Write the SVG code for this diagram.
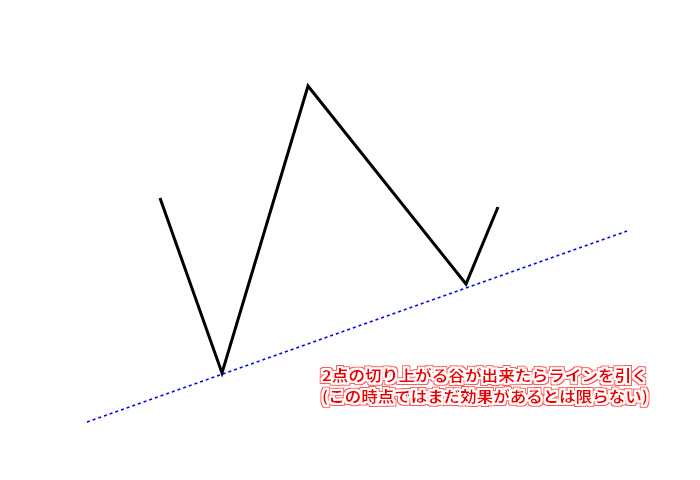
<svg xmlns="http://www.w3.org/2000/svg" width="700" height="480" viewBox="0 0 700 480">
<defs>
<filter id="halo" x="-5%" y="-30%" width="110%" height="160%">
<feMorphology in="SourceAlpha" operator="dilate" radius="2.5" result="outer"/>
<feFlood flood-color="#ff5a5a" result="red"/>
<feComposite in="red" in2="outer" operator="in" result="redRing"/>
<feMorphology in="SourceAlpha" operator="dilate" radius="1.6" result="inner"/>
<feFlood flood-color="#ffffff" result="white"/>
<feComposite in="white" in2="inner" operator="in" result="whiteRing"/>
<feMerge>
<feMergeNode in="redRing"/>
<feMergeNode in="whiteRing"/>
<feMergeNode in="SourceGraphic"/>
</feMerge>
</filter>
</defs>
<style>
.zig{fill:none;stroke:#000;stroke-width:3;stroke-linejoin:miter;stroke-linecap:butt}
.trend{stroke:#0000ff;stroke-width:1.5;stroke-dasharray:3,3}
.lbl{font-family:"Noto Sans CJK JP","Noto Sans",sans-serif;font-weight:bold;font-size:15px;fill:#ee0000;filter:url(#halo)}
</style>
<rect width="700" height="480" fill="#fff"/>
<g id="connectors">
<polyline class="zig" points="160,198 222,373 308,86 466,284 498,207"/>
<line class="trend" x1="87" y1="422" x2="627" y2="231"/>
</g>
<g id="label">
<text class="lbl" x="322" y="381" textLength="326" lengthAdjust="spacingAndGlyphs">2点の切り上がる谷が出来たらラインを引く</text>
<text class="lbl" x="322" y="402" textLength="326" lengthAdjust="spacingAndGlyphs">(この時点ではまだ効果があるとは限らない)</text>
</g>
</svg>
